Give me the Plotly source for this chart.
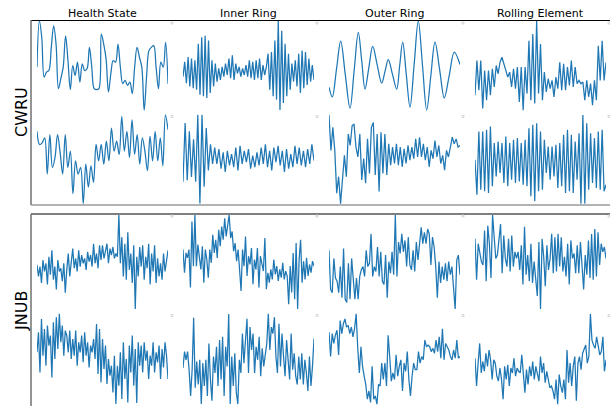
import plotly.graph_objects as go

W, H = 610, 406

column_titles = ["Health State", "Inner Ring", "Outer Ring", "Rolling Element"]
dataset_labels = ["CWRU", "JNUB"]

# ---------------- CWRU ----------------
cwru_health_a = [0, 14, 9, -3, -1.5, -1, 6, 12.5, 7, -6.5, -3.5, 0, 9.5, 2, -6.8, 0.5, -2.5, 1.5, -4.5, 1,
                 -1, -0.5, 6, 0, -6.5, -6.8, -6.5, 10, 7, 2.5, -7.5, -2, 2, 1.5, 7, 0, -5, -4, -5.5, -4.5,
                 -8, 0, 6, 3, 0, -13, -3, 5, 6, 6.5, 0, -6.5, 1.5, 0, 7.5, -5]
cwru_health_b = [8, 4, 4.5, 6, -5, 7, -3, 0, 7, 1.5, -5, 7, -3, 2, -11, -1, -5, -3, -14, -2, -9, -2.5,
                 -7.5, 4, -1, 4, -2, 5, -1, 9, 2, 5, 1, 12.5, 2, 8, 0, 11.5, 1, 7, -2, 6, 2, -4, 6.5, -1,
                 8, -1, 6, -2.5, 13, 8.5]
cwru_inner_a = [-15, 30, -35, 45, -45, 40, -50, 35, -55,
                85, -70, 105, -75, 110, -80, 95, -65,
                35, -45, 25, -30, 10, -25,
                15, -15, 25, -10, 40, -20, 50, -25, 25, -5, 15, -15, 10, -10, 20, -15, 35, -20, 30, -25,
                35, -20, 40, -25, 20, -10, 15,
                55, -55, 60, -75, 95, -85, 155, -117, 125, -95, 85, -75, 55, -55,
                25, -30, 35, -45, 55, -65, 65, -50, 60, -40, 40, -30, 20, -25]
cwru_inner_b = [-75, 105, -70, 80, -60, 55, -75, 130, -142, 130, -90, 90, -40, 40, -20,
                30, -20, 25, -35, 15, -45, 20, -25, 10, -30, 30, -40, 35, -20, 20, -15, 25, -35, 5, -30,
                15, -25, 30, -20, 40, -30, 20, -40, 30, -15, 35, -25, 20, -45, 25, -35, 10, -30, 35, -20,
                30, -25, 20, -30, 25, -20, 40, -10]
cwru_outer_a_t = [0, 3.3, 7.5, 11.7, 16.3, 21, 25.2, 29.3, 32.7, 36, 39.8, 43.7, 48.2, 52.7, 56, 59.3,
                  63.5, 67.7, 70.7, 73.7, 77.3, 81, 85.2, 89.3, 93.5, 97.7, 101.8, 106, 110.7, 115.3,
                  120.3, 125.3, 131]
cwru_outer_a = [-62, -92, -7, 78, -24, -126, -10, 105, 19, -68, -3, 62, 6, -50, -14, 22, -23, -68, 4, 75,
                -24, -123, 9, 140, 4, -132, -28, 75, -10, -95, -25, 45, 7]
cwru_outer_b = [118, 10, 80, 10, -120, -70, -152, -80, -5, -70, 60, 25, 85, 90, 20, -10, 60, -80, -15, -90,
                45, -60, 80, 95, -65, 60, -115, 65, -60, 60, -65, 30, -35, 20, -30, 30, -35, 20, -40, 15,
                -30, 25, -20, 20, -15, 45, -10, 50, -10, 30, -20, 20, -40, 10, -15, 40, -10, 25, -30, -5,
                -50, 10, -10, 20, 50, 30, 45, 20, 25]
cwru_rolling_a = [-55, 50, -40, 50, -95, 20, -70, 20, -55, 25, -30, 35, 10, 45, 60, 40, 20, 0, 15, -30,
                  25, -35, 30, -75, 30, -100, 30, -50, 110, -70, 130, -80, 170, -50, 100, -70, 15, -45, -5,
                  -35, -10, -60, 0, -35, 45, -40, 40, -40, 30, -25, 50, -30, 30, -20, -10, -20, -15, -70,
                  -10, -60, -20, -85, -10, -70, 95, -10, 110, -10, 45]
cwru_rolling_b = [-10, -115, 75, -100, 75, -105, 80, -110, 90, -90, 40, -60, 45, -50, 40, -80, 60, -90, 40,
                  -70, 50, -80, 55, -75, 40, -85, 50, -90, 85, -120, 95, -135, 100, -105, 75, -100, 50, -50,
                  30, -70, 30, -60, 35, -95, 40, -90, 65, -110, 80, -105, 65, -110, 45, -70, 70, -142, 125,
                  -142, 100, -100, 70, -80, 55, -95, 75, -100, 80, -105, -85]

# ---------------- JNUB ----------------
jnub_health_a = [5, -30, 0, -50, 20, -15, 10, -55, 30, -25, 50, -40, 0, -70, 20, -15, -5, -45, 10, -80,
                 -10, 40, -30, 15, 55, -5, 25, -15, 50, 0, 35, 10, 25, -10, 45, 15, 35, 0, 70, 10, 40, -5, 65,
                 20, 65, 25, 50, 70, 10, 55, 35, 60, 25, 40, 30, 158,
                 10, 90, -30, 70, -40, 105, -10, 40, -50, 65, -130, 30, -30, 60,
                 0, 65, -40, 30, -5, 70, -55, 40, -15, 65, -50, 25, -30, 10, -40, 40, -15, 20, 50]
jnub_health_b = [0, 60, -60, 100, -10, 70, -40, 80, 20, 50, -75, 90, -20, 105, 10, 115, 30, 80, -10, 65,
                 50, 0, 65, -20, 40, -10, 65, -40, 30, 0, 50, -30, 60, -10, 30, -45, 20, 0, 40, -20,
                 85, -65, 70, -90, 40, -50, 20, -95, -20, -70, -40, -120, -10, -155, -40, -100, 0, -140, 30,
                 -80, -20, -150, 20, -60, 50, -100, 10, -152, 30, -40,
                 20, -60, 30, -25, 5, -80, -10, -40, 30, -60, 0, -30, 20, -80, 10, -45, 30, -10, -80]
jnub_inner_a = [40, -30, 30, 15, 40, -75, 125, -10, 145,
                -10, 55, 20, -20, 50, -60, 40, 10, -45,
                40, 0, 85, 30, 70, 15, 100, 50, 110, 70, 135, 80, 115, 145,
                75, 95, 35, 60, 5, 40, -20, -85, 40,
                -10, 80, -40, 20, -5, 45, -65, 10, -20, 45, -75, 20, -10, -25, 75, -80,
                -30, -60, -20, -50, 10, -35, -10, -55, -20, -45, 0, -50, -25,
                -40, -125, -10, -90, 30, -110, 60, -140, 10, 70, -60, 5,
                -50, 15, -40, -5, -30, 5, -10]
jnub_inner_b = [-15, 35, 10, 35, -20,
                -100, -20, 138, -75, 5, -65, 10, -125, 0,
                -70, 10, -100, 60, -50, -115, 20, -30, 50,
                -70, 70, -50, 80, -100, 50, -10, 150, -125,
                20, -70, 30, -90, -125, 10,
                -30, 90, 0, 60, 135, -30, 110, 40, 90,
                -30, 50, 10, 80, -40, 45, -10, 30, 60,
                150, 40, 110, 90, 140, 20, -30, 120, -10,
                90, 20, -40, 70, 0, -50, 90, -20, 30, -40, -65,
                20, -50, 30, -65, 10, -30, -85, 20, -70, -10, 75]
jnub_outer_a = [60, -60, -70, 35, -25, -35, -70, 10, -85, 65, -90, -100, 20, -90, 35, -40, -90, -25, -90,
                -20, 0, 10, -20, 60, 10, 20, 110, -20, 10, -5, 70, -20, 55, -35, -45, 45, -85, 25, -10, 55,
                -15, 168, -20, 85, 50, 110, 55, 90, 10, 100, 15, 0, 60, -5, 85, 30, 85, 130, 80, 115, 80,
                125, 110, 15, 100, 70, 10, -85, 25, -40, 10, -30, 20, -35, 25, -15, 10, -65, -120, 30, 45, -15]
jnub_outer_b = [75, 0, 70, 40, 65, 80, 5, 110, 70, 100, 115, 90, 95, 70, 90, 60, 85, 130, 25, -50, 30, -30,
                -60, -85, -130, -105, -140, -30, -130, -120, -145, -85, -90, -20, -70, -20, -90, 65, 0, -75,
                -50, -70, 5, -60, -30, -10, -105, -20, -45, 15, -70, -120, -60, -20, -40, -40, 15, -20, 0,
                -10, 50, 30, 35, 30, 15, 25, 10, 50, 15, 60, -5, 85, -10, 40, 30, 20, 0, -10, 20, -5, 50, -5, 0]
jnub_rolling_a = [55, -70, 40, 10, -15, -25, 80, -75, 95, 40, -65, 128, 50, -5, 5, 50, 100, -50, 65, -5,
                  -30, 55, -45, 65, -30, 15, -5, 15, -40, 35, -85, 92, -55, 5, -75, 40, -80, -15, -65, -120,
                  45, -160, 55, 0, -90, 35, -40, -5, 70, -50, 60, -45, 70, -30, 60, -45, 0, -60, 40, -85,
                  50, -5, 10, -50, 35, -50, 45, -30, -100, 5, -55, 50, -65, 70, -70, 85, -60, 75, -25, 40,
                  15, 30, -5]
jnub_rolling_b = [25, -60, 10, 70, -20, 15, -15, 40, 0, 50, 20, -40, 20, 10, -30, -45, -5, -40, -100, 0,
                  -40, 5, -60, -5, -20, 25, -30, -5, -15, -20, 35, -35, -80, -10, -55, 0, -30, 15, -40, 0,
                  -25, -45, 30, -20, 10, -50, -15, -40, -65, -60, -75, -100, -40, -115, -25, -60, -80, -40,
                  -100, 50, -50, 10, -60, 0, 30, -105, 10, 30, -10, 40, 50, 65, 10, 30, 160, 80, 65, 55, 90,
                  60, 35, 45, 90, -15, 20]

grid = [
    [cwru_health_a, cwru_inner_a, cwru_outer_a, cwru_rolling_a],
    [cwru_health_b, cwru_inner_b, cwru_outer_b, cwru_rolling_b],
    [jnub_health_a, jnub_inner_a, jnub_outer_a, jnub_rolling_a],
    [jnub_health_b, jnub_inner_b, jnub_outer_b, jnub_rolling_b],
]
times = {(0, 2): cwru_outer_a_t}
smooth = {(0, 0), (0, 2), (1, 0)}

# ---------------- layout geometry (pixels) ----------------
col_px = [(37, 168), (183, 314), (329, 460), (475, 606)]
row_px = [(20, 111), (114, 204.5), (214, 310), (313, 405)]
LINE = "#1f77b4"

fig = go.Figure()
layout = {}
for r in range(4):
    for c in range(4):
        k = r * 4 + c + 1
        sig = grid[r][c]
        t = times.get((r, c), list(range(len(sig))))
        xs = "x" if k == 1 else f"x{k}"
        ys = "y" if k == 1 else f"y{k}"
        fig.add_trace(go.Scatter(
            x=t, y=sig, mode="lines",
            line=dict(color=LINE, width=1.25, shape="spline" if (r, c) in smooth else "linear"),
            xaxis=xs, yaxis=ys, hoverinfo="skip", showlegend=False))
        x0, x1 = col_px[c]
        y0, y1 = row_px[r]
        lo, hi = min(sig), max(sig)
        pad = (hi - lo) * 0.01
        suffix = "" if k == 1 else str(k)
        layout["xaxis" + suffix] = dict(domain=[x0 / W, x1 / W], range=[min(t), max(t)],
                                        visible=False, anchor=ys, fixedrange=True)
        layout["yaxis" + suffix] = dict(domain=[1 - y1 / H, 1 - y0 / H], range=[lo - pad, hi + pad],
                                        visible=False, anchor=xs, fixedrange=True)

fig.update_layout(**layout)

def px_x(v):
    return v / W

def px_y(v):
    return 1 - v / H

annotations = []
for c, title in enumerate(column_titles):
    cx = (col_px[c][0] + col_px[c][1]) / 2
    annotations.append(dict(text=title, x=px_x(cx), y=px_y(14), xref="paper", yref="paper",
                            showarrow=False, xanchor="center", yanchor="middle",
                            font=dict(family="DejaVu Sans", size=11, color="black")))
for i, lab in enumerate(dataset_labels):
    cy = 112 if i == 0 else 311
    annotations.append(dict(text=lab, x=px_x(21), y=px_y(cy), xref="paper", yref="paper",
                            showarrow=False, xanchor="center", yanchor="middle", textangle=-90,
                            font=dict(family="DejaVu Sans", size=16, color="black")))

shapes = []
def hline(y, x0, x1, color, w):
    shapes.append(dict(type="line", xref="paper", yref="paper", x0=px_x(x0), x1=px_x(x1),
                       y0=px_y(y), y1=px_y(y), line=dict(color=color, width=w)))
def vline(x, y0, y1, color, w):
    shapes.append(dict(type="line", xref="paper", yref="paper", x0=px_x(x), x1=px_x(x),
                       y0=px_y(y0), y1=px_y(y1), line=dict(color=color, width=w)))

hline(20.5, 31, 610, "black", 1.2)
vline(31, 20, 205, "#707070", 1.5)
hline(205, 31, 610, "#9a9a9a", 1.5)
hline(214, 31, 610, "#555555", 1.5)
vline(31, 214, 406, "#707070", 1.5)

for sx in (172, 317, 463, 609):
    for sy in (23, 116.5, 216, 315.5):
        shapes.append(dict(type="rect", xref="paper", yref="paper",
                           x0=px_x(sx - 1), x1=px_x(sx + 1), y0=px_y(sy + 1), y1=px_y(sy - 1),
                           line=dict(color="#cfcfcf", width=0.8), fillcolor="white"))

fig.update_layout(width=W, height=H, margin=dict(l=0, r=0, t=0, b=0),
                  paper_bgcolor="white", plot_bgcolor="white",
                  annotations=annotations, shapes=shapes, showlegend=False)

fig.write_html("out.html", config={"displayModeBar": False},
               post_script="document.body.style.margin='0';document.body.style.overflow='hidden';")
